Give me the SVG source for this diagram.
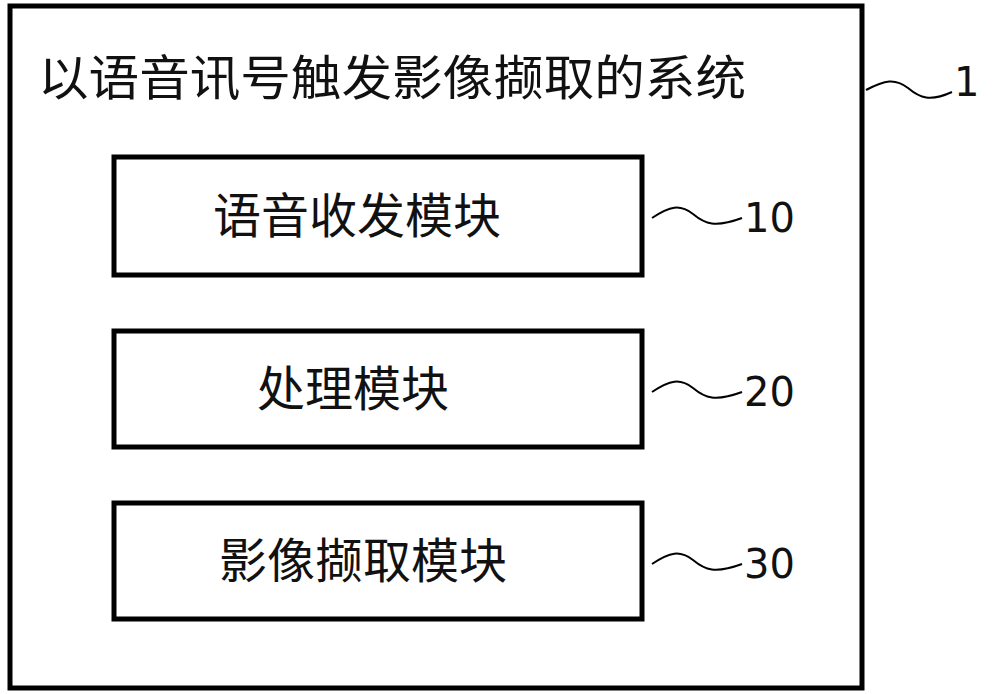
<svg xmlns="http://www.w3.org/2000/svg" width="1000" height="694" viewBox="0 0 1000 694">
<style>
.box{fill:#fff;stroke:#000;stroke-width:5}
.t{font-family:"Noto Sans CJK SC","Noto Sans",sans-serif;font-size:48px;fill:#111}
.n{font-family:"DejaVu Sans","Liberation Sans",sans-serif;font-size:40px;fill:#111}
.sq{fill:none;stroke:#000;stroke-width:2}
</style>
<rect width="1000" height="694" fill="#fff"/>
<g id="system">
<rect class="box" x="10" y="6" width="852" height="682"/>
<text class="t" x="38" y="95" textLength="708" lengthAdjust="spacingAndGlyphs">以语音讯号触发影像撷取的系统</text>
</g>
<g id="n10">
<rect class="box" x="114" y="157" width="528" height="118"/>
<text class="t" x="357" y="233" text-anchor="middle">语音收发模块</text>
</g>
<g id="n20">
<rect class="box" x="114" y="331" width="528" height="116"/>
<text class="t" x="353" y="406" text-anchor="middle">处理模块</text>
</g>
<g id="n30">
<rect class="box" x="114" y="503" width="528" height="116"/>
<text class="t" x="363" y="578" text-anchor="middle">影像撷取模块</text>
</g>
<g id="connectors">
<path class="sq" d="M866 90 C885 80,895 78,908 88 C920 98,930 102,952 92"/>
<path class="sq" d="M652 218 C670 206,680 204,693 214 C705 224,715 228,742 218"/>
<path class="sq" d="M652 392 C670 380,680 378,693 388 C705 398,715 402,742 392"/>
<path class="sq" d="M652 564 C670 552,680 550,693 560 C705 570,715 574,742 564"/>
</g>
<text class="n" x="954" y="96" fill="#888">1</text>
<text class="n" x="744" y="232">10</text>
<text class="n" x="744" y="406">20</text>
<text class="n" x="744" y="578">30</text>
</svg>
